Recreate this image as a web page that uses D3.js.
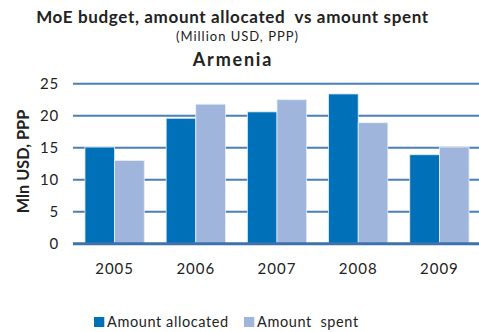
<!DOCTYPE html>
<html>
<head>
<meta charset="utf-8">
<script src="https://cdn.jsdelivr.net/npm/d3@7"></script>
<style>
  body { margin: 0; background: #fff; }
  svg text { font-family: Lato, "Open Sans", sans-serif; fill: #222; white-space: pre; }
</style>
</head>
<body>
<svg id="chart"></svg>
<script>
var years = ['2005', '2006', '2007', '2008', '2009']
var allocated = [15.1, 19.6, 20.6, 23.4, 13.9]
var spent = [13.0, 21.8, 22.5, 18.9, 15.1]
var series_names = ['Amount allocated', 'Amount  spent']
var y_ticks = [0, 5, 10, 15, 20, 25]

var width = 479, height = 332
var svg = d3.select('#chart').attr('width', width).attr('height', height)

var colors = ['#0070b8', '#9fb5dc']

var x = d3.scaleBand().domain(years).range([74, 480]).paddingInner(0.27).paddingOuter(0.135)
var x_inner = d3.scaleBand().domain([0, 1]).range([0, x.bandwidth()])
var y = d3.scaleLinear().domain([0, 25]).range([243.7, 83.7])

// titles
svg.append('text').attr('x', 232.5).attr('y', 23).attr('text-anchor', 'middle')
    .style('font-size', '17px').style('font-weight', 'bold').style('letter-spacing', '0.65px')
    .text('MoE budget, amount allocated  vs amount spent')
svg.append('text').attr('x', 237.5).attr('y', 41).attr('text-anchor', 'middle')
    .style('font-size', '13px').style('letter-spacing', '1px')
    .text('(Million USD, PPP)')
svg.append('text').attr('x', 233).attr('y', 66).attr('text-anchor', 'middle')
    .style('font-size', '18px').style('font-weight', 'bold').style('letter-spacing', '1.8px')
    .text('Armenia')

// gridlines
svg.append('g').selectAll('line')
    .data(y_ticks.filter(d => d > 0))
    .enter().append('line')
    .attr('x1', 73).attr('x2', 479)
    .attr('y1', d => y(d)).attr('y2', d => y(d))
    .attr('stroke', '#4a7ebb').attr('stroke-width', 2)

// bars
var group = svg.append('g').selectAll('g')
    .data(years)
    .enter().append('g')
    .attr('transform', d => 'translate(' + x(d) + ',0)')

group.selectAll('rect')
    .data((d, i) => [allocated[i], spent[i]])
    .enter().append('rect')
    .attr('x', (d, j) => x_inner(j))
    .attr('width', x_inner.bandwidth())
    .attr('y', d => y(d))
    .attr('height', d => y(0) - y(d))
    .attr('fill', (d, j) => colors[j])
    .attr('stroke', '#e6eef8').attr('stroke-width', 0.8)

// baseline
svg.append('line').attr('x1', 73).attr('x2', 479)
    .attr('y1', y(0)).attr('y2', y(0))
    .attr('stroke', '#3f72ad').attr('stroke-width', 3)

// y axis labels
var y_axis = svg.append('g').attr('transform', 'translate(59,0)')
    .call(d3.axisLeft(y).tickValues(y_ticks).tickSize(0).tickPadding(0))
y_axis.select('.domain').remove()
y_axis.selectAll('text').style('font-size', '15px').style('letter-spacing', '0.8px')
    .style('fill', '#222').attr('dy', '0.35em')

// x axis labels
var x_axis = svg.append('g').attr('transform', 'translate(0,' + 263 + ')')
    .call(d3.axisBottom(x).tickSize(0).tickPadding(0))
x_axis.select('.domain').remove()
x_axis.selectAll('text').style('font-size', '15px').style('letter-spacing', '1px').style('fill', '#222')

svg.append('text')
    .attr('transform', 'translate(29,161.5) rotate(-90)')
    .attr('text-anchor', 'middle')
    .style('font-size', '16.3px').style('font-weight', 'bold')
    .text('Mln USD, PPP')

// legend
var legend_x = [94, 244]
var legend = svg.append('g').selectAll('g')
    .data(series_names)
    .enter().append('g')
    .attr('transform', (d, i) => 'translate(' + legend_x[i] + ',317)')
legend.append('rect').attr('width', 10.3).attr('height', 10).attr('fill', (d, i) => colors[i])
legend.append('text').attr('x', 13).attr('y', 10).style('font-size', '14.5px')
    .style('letter-spacing', '0.6px').text(d => d)
</script>
</body>
</html>
